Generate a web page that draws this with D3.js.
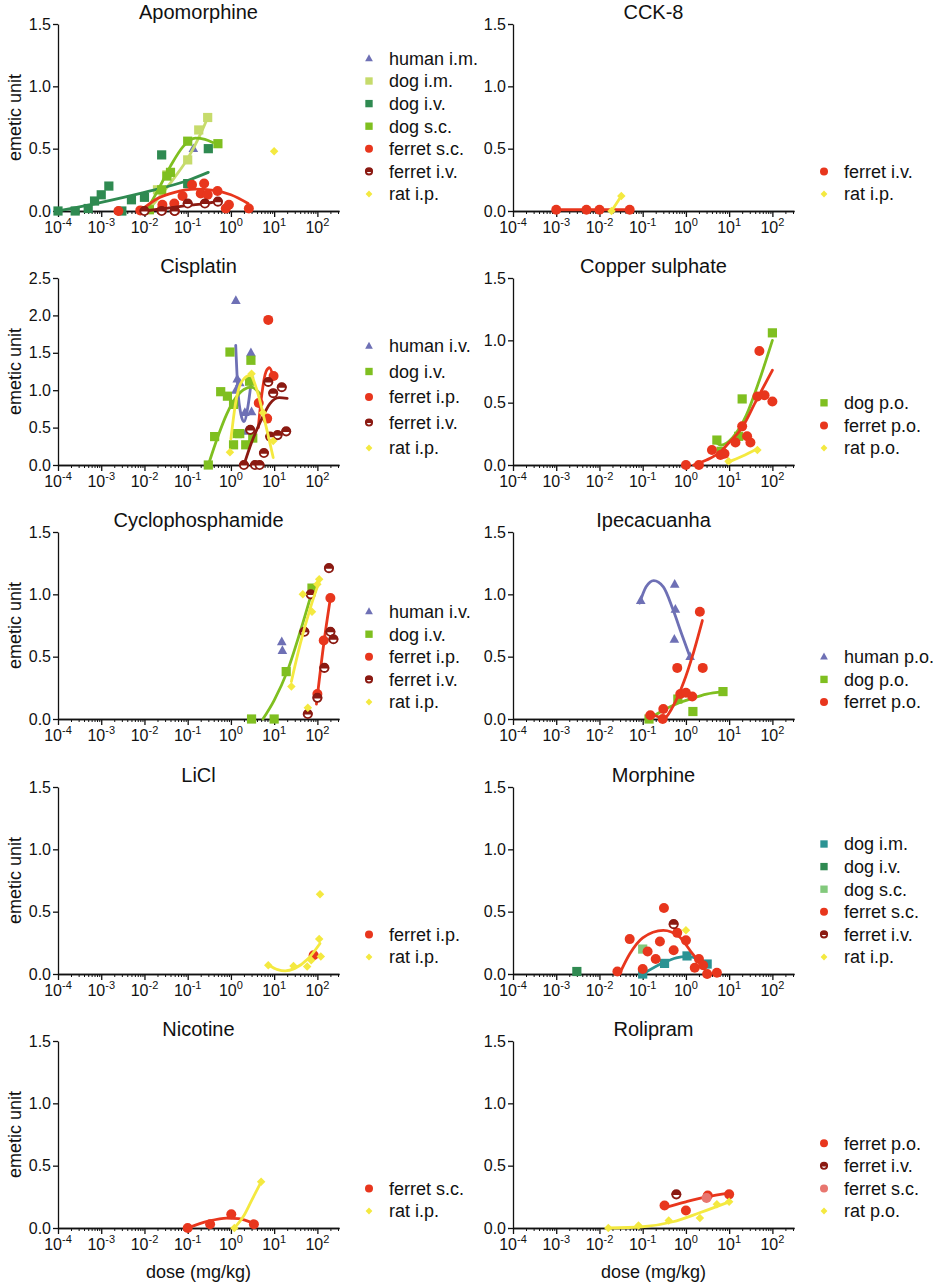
<!DOCTYPE html>
<html><head><meta charset="utf-8">
<script src="https://cdn.jsdelivr.net/npm/d3@7"></script>
<style>
body{margin:0;background:#fff}
svg{display:block}
text{font-family:"Liberation Sans",Arial,Helvetica,sans-serif;fill:#111}
</style>
</head><body>
<svg id="chart" width="935" height="1285"></svg>
<script>
// ---------------- DATA ----------------
const panelTitles = ["Apomorphine","CCK-8","Cisplatin","Copper sulphate","Cyclophosphamide",
                     "Ipecacuanha","LiCl","Morphine","Nicotine","Rolipram"];
const yMaxima = [1.5,1.5,2.5,1.5,1.5,1.5,1.5,1.5,1.5,1.5];
const xTickExponents = [-4,-3,-2,-1,0,1,2];
const yAxisLabel = "emetic unit";
const xAxisLabel = "dose (mg/kg)";

const apomorphine = [
  {series:"human i.m.", points:[[0.135,0.5]], fit:[]},
  {series:"dog i.m.", points:[[0.02,0.17],[0.033,0.29],[0.1,0.41],[0.18,0.65],[0.29,0.75]],
   fit:[[0.014,0.03],[0.05,0.27],[0.1,0.42],[0.2,0.62],[0.3,0.76]]},
  {series:"dog i.v.", points:[[1e-4,0],[2.5e-4,0],[5e-4,0.02],[7e-4,0.08],[1e-3,0.13],[1.5e-3,0.2],[3e-3,0],
   [5e-3,0.09],[1e-2,0.11],[2.5e-2,0.45],[0.1,0.22],[0.3,0.5]],
   fit:[[1e-4,0],[1e-3,0.07],[1e-2,0.15],[0.1,0.245],[0.3,0.31]]},
  {series:"dog s.c.", points:[[0.013,0.01],[0.025,0.17],[0.033,0.28],[0.04,0.31],[0.1,0.56],[0.5,0.54]],
   fit:[[0.011,0],[0.02,0.16],[0.04,0.36],[0.08,0.52],[0.15,0.585],[0.25,0.575],[0.38,0.55]]},
  {series:"ferret s.c.", points:[[0.0025,0],[0.008,0.005],[0.025,0.01],[0.026,0.05],[0.049,0.06],[0.05,0],
   [0.076,0.12],[0.126,0.21],[0.2,0.14],[0.24,0.22],[0.29,0.13],[0.49,0.16],[0.76,0.02],[0.9,0.05],[2.6,0.02]],
   fit:[[0.008,0],[0.02,0.1],[0.05,0.15],[0.15,0.175],[0.4,0.165],[1,0.13],[2.5,0.06]]},
  {series:"ferret i.v.", points:[[0.01,0],[0.025,0],[0.05,0],[0.1,0.06],[0.25,0.06],[0.5,0.075]],
   fit:[[0.01,0],[0.03,0.02],[0.1,0.045],[0.25,0.06],[0.5,0.075]]},
  {series:"rat i.p.", points:[[10,0.48]], fit:[]}
];
const cck8 = [
  {series:"ferret i.v.", points:[[0.001,0.01],[0.005,0.01],[0.01,0.01],[0.05,0.01]], fit:[[0.001,0.01],[0.05,0.01]]},
  {series:"rat i.p.", points:[[0.019,0],[0.032,0.12]], fit:[[0.019,0],[0.032,0.12]]}
];
const cisplatin = [
  {series:"human i.v.", points:[[1.3,2.2],[1.3,1.0],[1.4,1.15],[1.6,1.1],[2.1,0.7],[2.3,0.45],[2.9,1.5],[3.0,0.71]],
   fit:[[1.29,1.6],[1.45,1.0],[1.7,0.68],[2.0,0.58],[2.5,0.8],[3.1,1.23]]},
  {series:"dog i.v.", points:[[0.3,0],[0.42,0.38],[0.58,0.98],[0.83,0.92],[0.95,1.51],[1.15,0.81],[1.15,0.27],
   [1.4,0.42],[1.6,0.42],[2.2,0.27],[2.7,1.12],[2.9,1.4],[3.2,0.36]],
   fit:[[0.3,0],[0.5,0.38],[0.8,0.68],[1.3,0.9],[2,1.01],[3,1.04],[4.7,0.95]]},
  {series:"ferret i.p.", points:[[4.4,0.83],[6.9,0.62],[7.3,1.94],[9.7,1.19]],
   fit:[[4.3,0.5],[5.2,0.95],[6.5,1.25],[7.8,1.3],[9.5,1.18]]},
  {series:"ferret i.v.", points:[[2,0],[2.8,0.47],[3.6,0],[4.6,0],[5.8,0.16],[7.3,1.11],[8.1,0.38],[9.5,0.96],
   [12,0.4],[15,1.04],[19,0.45]],
   fit:[[2,0],[3,0.3],[5,0.6],[8,0.82],[13,0.9],[20,0.89]]},
  {series:"rat i.p.", points:[[0.95,0.17],[3.0,1.22],[5.5,0.7],[9.5,0.32]],
   fit:[[1.0,0.35],[1.3,0.85],[1.8,1.12],[2.8,1.2],[4,1.0],[6,0.6],[9.5,0.1]]}
];
const copperSulphate = [
  {series:"dog p.o.", points:[[5.2,0.2],[6.5,0.11],[16.6,0.23],[20,0.53],[100,1.06]],
   fit:[[5,0.18],[6.5,0.16],[12,0.22],[25,0.4],[50,0.68],[100,1.0]]},
  {series:"ferret p.o.", points:[[1,0],[2,0],[4,0.12],[6.3,0.08],[7.8,0.09],[14,0.18],[20,0.31],[26,0.23],
   [31,0.18],[45,0.55],[50,0.915],[66,0.56],[100,0.51]],
   fit:[[1.5,0],[3,0.04],[6,0.1],[10,0.18],[20,0.3],[40,0.5],[100,0.76]]},
  {series:"rat p.o.", points:[[9.7,0.03],[45,0.12]], fit:[[9,0.02],[20,0.07],[45,0.13]]}
];
const cyclophosphamide = [
  {series:"human i.v.", points:[[15,0.62],[15.5,0.55]], fit:[]},
  {series:"dog i.v.", points:[[3,0],[10,0],[19,0.38],[75,1.05]],
   fit:[[5.5,0],[10,0.15],[20,0.38],[40,0.7],[75,1.02]]},
  {series:"ferret i.p.", points:[[100,0.2],[140,0.63],[200,0.97]], fit:[[95,0.12],[140,0.6],[200,0.97]]},
  {series:"ferret i.v.", points:[[50,0.7],[60,0.04],[70,1.0],[100,0.17],[145,0.41],[185,1.21],[200,0.7],[235,0.64]], fit:[]},
  {series:"rat i.p.", points:[[25,0.26],[46,1.0],[60,0.09],[75,0.86],[100,1.08],[110,1.12]],
   fit:[[25,0.3],[40,0.6],[70,0.9],[115,1.12]]}
];
const ipecacuanha = [
  {series:"human p.o.", points:[[0.09,0.95],[0.54,0.64],[0.55,1.08],[0.57,0.88],[1.25,0.5]],
   fit:[[0.085,0.93],[0.12,1.06],[0.18,1.11],[0.3,1.06],[0.5,0.88],[0.8,0.68],[1.3,0.48]]},
  {series:"dog p.o.", points:[[0.14,0],[0.65,0.16],[1.45,0.06],[7.2,0.22]],
   fit:[[0.14,0],[0.3,0.07],[0.7,0.13],[1.5,0.17],[3,0.2],[7,0.22]]},
  {series:"ferret p.o.", points:[[0.15,0.03],[0.29,0.0],[0.3,0.08],[0.63,0.41],[0.74,0.2],[1.0,0.21],[1.4,0.18],[2.1,0.86],[2.45,0.41]],
   fit:[[0.15,0.04],[0.22,0.02],[0.3,0],[0.5,0.1],[0.9,0.3],[1.4,0.5],[2.4,0.79]]}
];
const liCl = [
  {series:"ferret i.p.", points:[[82,0.15]], fit:[]},
  {series:"rat i.p.", points:[[7.3,0.07],[28,0.065],[58,0.06],[72,0.11],[110,0.28],[115,0.64],[120,0.14]],
   fit:[[7.5,0.07],[12,0.035],[18,0.025],[30,0.045],[60,0.12],[115,0.245]]}
];
const morphine = [
  {series:"dog i.m.", points:[[0.1,0],[0.32,0.085],[1.06,0.145],[3.1,0.08]],
   fit:[[0.1,0],[0.3,0.09],[0.6,0.13],[1,0.14],[2,0.12],[3.1,0.085]]},
  {series:"dog i.v.", points:[[0.003,0.02]], fit:[]},
  {series:"dog s.c.", points:[[0.1,0.2]], fit:[]},
  {series:"ferret s.c.", points:[[0.026,0.02],[0.05,0.28],[0.1,0.04],[0.13,0.18],[0.2,0.12],[0.25,0.26],[0.31,0.53],
   [0.52,0.19],[0.63,0.33],[1.0,0.27],[1.6,0.05],[2.0,0.12],[2.5,0.07],[3.1,0],[5.2,0.01]],
   fit:[[0.03,0.01],[0.05,0.16],[0.1,0.29],[0.3,0.35],[0.7,0.3],[1.3,0.18],[2.7,0.04]]},
  {series:"ferret i.v.", points:[[0.52,0.4]], fit:[]},
  {series:"rat i.p.", points:[[1.0,0.35]], fit:[]}
];
const nicotine = [
  {series:"ferret s.c.", points:[[0.1,0],[0.33,0.03],[1.02,0.11],[3.4,0.03]],
   fit:[[0.1,0],[0.3,0.055],[0.8,0.08],[1.5,0.075],[3.4,0.035]]},
  {series:"rat i.p.", points:[[1.2,0],[5,0.37]], fit:[[1.2,0],[2,0.1],[3,0.22],[5,0.37]]}
];
const rolipram = [
  {series:"ferret p.o.", points:[[0.32,0.18],[1.0,0.14],[3.2,0.26],[10,0.27]],
   fit:[[0.3,0.16],[1,0.21],[3,0.25],[10,0.28]]},
  {series:"ferret i.v.", points:[[0.6,0.27]], fit:[]},
  {series:"ferret s.c.", points:[[3.0,0.24]], fit:[]},
  {series:"rat p.o.", points:[[0.016,0],[0.08,0.02],[0.4,0.06],[2.1,0.08],[5.2,0.19],[10,0.21]],
   fit:[[0.016,0],[0.1,0.01],[0.5,0.05],[2,0.12],[10,0.21]]}
];
const panelData = [apomorphine,cck8,cisplatin,copperSulphate,cyclophosphamide,ipecacuanha,liCl,morphine,nicotine,rolipram];

// ---------------- STYLES ----------------
const C = {human:"#6e70b5", lime:"#7fbf20", red:"#e8361d", darkred:"#8b1a12", yellow:"#f4e940",
           darkgreen:"#2f8a51", paleLime:"#c6db6b", teal:"#2b9393", lightgreen:"#82c97c", salmon:"#e8766f"};
function styleFor(title, series){
  const key = title + "|" + series;
  const overrides = {
    "Apomorphine|dog i.m.": {shape:"square", color:C.paleLime},
    "Apomorphine|dog i.v.": {shape:"square", color:C.darkgreen},
    "CCK-8|ferret i.v.": {shape:"circle", color:C.red},
    "Morphine|dog i.m.": {shape:"square", color:C.teal},
    "Morphine|dog i.v.": {shape:"square", color:C.darkgreen},
    "Morphine|dog s.c.": {shape:"square", color:C.lightgreen},
    "Rolipram|ferret s.c.": {shape:"circle", color:C.salmon}
  };
  if (overrides[key]) return overrides[key];
  if (series.startsWith("human")) return {shape:"triangle", color:C.human};
  if (series.startsWith("dog")) return {shape:"square", color:C.lime};
  if (series === "ferret i.v.") return {shape:"half", color:C.darkred};
  if (series.startsWith("ferret")) return {shape:"circle", color:C.red};
  return {shape:"diamond", color:C.yellow};
}

// ---------------- LAYOUT ----------------
const colX = [58, 513];
const axisW = 281;
const rowBottom = [211, 465, 719, 974, 1228];
const plotH = 187;
const svg = d3.select("#chart");

function shapePath(shape, s){
  if (shape === "square") return `M${-s},${-s}H${s}V${s}H${-s}Z`;
  if (shape === "triangle") return `M0,${-s*1.15}L${s*1.05},${s*0.75}L${-s*1.05},${s*0.75}Z`;
  if (shape === "diamond") return `M0,${-s}L${s},0L0,${s}L${-s},0Z`;
  return `M${-s},0A${s},${s} 0 1,0 ${s},0A${s},${s} 0 1,0 ${-s},0Z`;
}
function drawMarkers(g, data, st, s, xf, yf){
  if (st.shape === "half"){
    const grp = g.selectAll(null).data(data).join("g")
      .attr("transform", d => `translate(${xf(d)},${yf(d)})`);
    grp.append("circle").attr("r", s-0.9).attr("fill","#fff").attr("stroke",st.color).attr("stroke-width",1.9);
    grp.append("path").attr("d", `M${-s},0.6A${s},${s} 0 0,1 ${s},0.6Z`).attr("fill",st.color);
  } else {
    const sz = st.shape === "circle" ? s : (st.shape === "diamond" ? s*0.85 : s*0.92);
    g.selectAll(null).data(data).join("path")
      .attr("transform", d => `translate(${xf(d)},${yf(d)})`)
      .attr("d", shapePath(st.shape, sz)).attr("fill", st.color);
  }
}

panelData.forEach((series, idx) => {
  const col = idx % 2, row = Math.floor(idx/2);
  const title = panelTitles[idx];
  const x0 = colX[col], bottom = rowBottom[row], top = bottom - plotH;
  const x = d3.scaleLog().domain([1e-4, Math.pow(10,2.5)]).range([x0, x0+axisW]);
  const y = d3.scaleLinear().domain([0, yMaxima[idx]]).range([bottom, top]);
  const g = svg.append("g");

  // title
  g.append("text").attr("x", x0 + axisW/2).attr("y", top - 5).attr("text-anchor","middle")
    .attr("font-size", 20).text(title);

  // y axis
  const yAxis = d3.axisLeft(y).tickValues(d3.range(0, yMaxima[idx]+0.01, 0.5))
    .tickFormat(d3.format(".1f")).tickSize(5).tickSizeOuter(0).tickPadding(2);
  const ya = g.append("g").attr("transform",`translate(${x0},0)`).call(yAxis);
  ya.selectAll("text").attr("font-size",16).attr("font-family",null).attr("fill","#111");
  ya.selectAll("path,line").attr("stroke","#111").attr("stroke-width",1.3);

  // x axis: minor ticks
  const minor = [];
  for (let e=-4; e<=2; e++) for (let m=2; m<=9; m++){ const v=m*Math.pow(10,e); if (v<=Math.pow(10,2.5)) minor.push(v); }
  const xa = g.append("g").attr("transform",`translate(0,${bottom})`)
    .call(d3.axisBottom(x).tickValues(minor).tickSize(3).tickSizeOuter(0).tickFormat(""));
  const xm = g.append("g").attr("transform",`translate(0,${bottom})`)
    .call(d3.axisBottom(x).tickValues(xTickExponents.map(e=>Math.pow(10,e))).tickSize(6).tickSizeOuter(0).tickFormat(""));
  g.selectAll("path.domain").attr("stroke","#111").attr("stroke-width",1.3);
  xa.selectAll("line").attr("stroke","#111").attr("stroke-width",1);
  xm.selectAll("line").attr("stroke","#111").attr("stroke-width",1.3);

  // x tick labels with superscripts
  xTickExponents.forEach(e => {
    const t = g.append("text").attr("x", x(Math.pow(10,e))).attr("y", bottom + 22)
      .attr("text-anchor","middle").attr("font-size",16);
    t.append("tspan").text("10");
    t.append("tspan").attr("dy",-7).attr("font-size",11).text(String(e));
  });

  // y axis label (left column only)
  if (col === 0){
    g.append("text").attr("transform",`translate(21,${(top+bottom)/2}) rotate(-90)`)
      .attr("text-anchor","middle").attr("font-size",18).text(yAxisLabel);
  }
  // x axis label (bottom row)
  if (row === 4){
    g.append("text").attr("x", x0 + axisW/2).attr("y", 1278).attr("text-anchor","middle")
      .attr("font-size",18).text(xAxisLabel);
  }

  // series
  const line = d3.line().x(d => x(d[0])).y(d => y(d[1])).curve(d3.curveMonotoneX);
  series.forEach(s => {
    const st = styleFor(title, s.series);
    if (s.fit.length > 1){
      g.append("path").datum(s.fit).attr("d", line).attr("fill","none")
        .attr("stroke", st.color).attr("stroke-width", 2.8).attr("stroke-linecap","round");
    }
    drawMarkers(g, s.points, st, 5, d => x(d[0]), d => y(d[1]));
  });

  // legend
  const spacing = title === "Cisplatin" ? 25.5 : 22.6;
  const n = series.length;
  const lx = x0 + axisW + 30;
  series.forEach((s, i) => {
    const st = styleFor(title, s.series);
    const ly = bottom - 17 - (n-1-i)*spacing;
    drawMarkers(g, [[0,0]], st, 4, () => lx, () => ly);
    g.append("text").attr("x", lx + 20).attr("y", ly).attr("dy","0.35em")
      .attr("font-size",18).text(s.series);
  });
});
</script>
</body></html>
